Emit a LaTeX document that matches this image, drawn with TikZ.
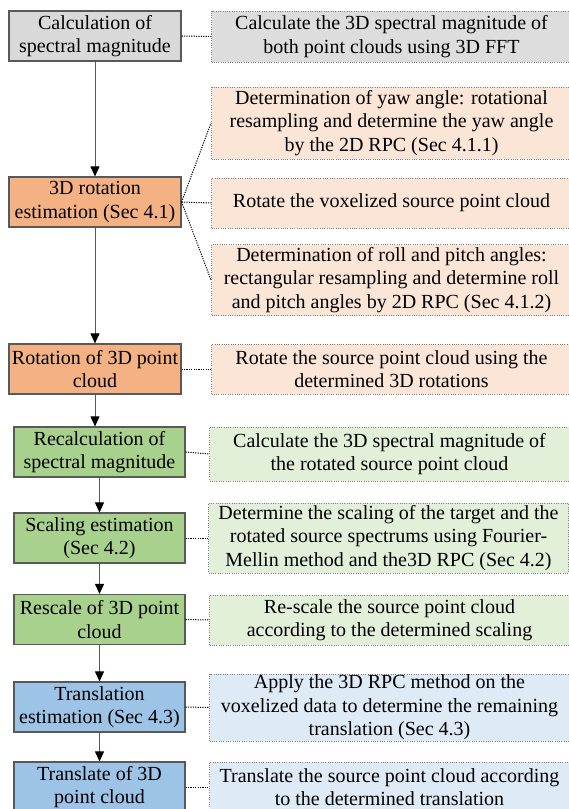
\documentclass[tikz,border=0pt]{standalone}
\usepackage{fontspec}
\setmainfont{Liberation Serif}
\usetikzlibrary{arrows.meta}

\definecolor{edgegray}{HTML}{595959}
\definecolor{dotgray}{HTML}{7F7F7F}
\definecolor{graybox}{HTML}{D9D9D9}
\definecolor{graylight}{HTML}{DDDDDD}
\definecolor{orangebox}{HTML}{F4B183}
\definecolor{orangelight}{HTML}{FBE5D6}
\definecolor{greenbox}{HTML}{A9D18E}
\definecolor{greenlight}{HTML}{E2F0D9}
\definecolor{bluebox}{HTML}{9DC3E6}
\definecolor{bluelight}{HTML}{DEEBF7}

\tikzset{
  stage/.style={draw=edgegray, line width=1.2pt, minimum width=172pt, minimum height=50pt,
    inner sep=0pt, align=center, font=\fontsize{20}{23.5}\selectfont},
  detail/.style={draw=dotgray, line width=1pt, dash pattern=on 1pt off 1.3pt, anchor=west,
    minimum width=360pt, inner sep=0pt, align=center, font=\fontsize{20}{23.5}\selectfont},
  link/.style={line width=1pt, dash pattern=on 1.2pt off 1.2pt},
  flow/.style={draw=edgegray, line width=1pt, -{Triangle[length=10pt,width=9pt,black]}}
}

\begin{document}
\begin{tikzpicture}[x=1pt,y=-1pt]
\useasboundingbox (0,0) rectangle (568,809);

\node[stage, fill=graybox] (calc) at (95,36) {Calculation of\\spectral magnitude};
\node[stage, fill=orangebox] (rotest) at (95,202) {3D rotation\\estimation (Sec 4.1)};
\node[stage, fill=orangebox] (rotpc) at (95,369) {Rotation of 3D point\\cloud};
\node[stage, fill=greenbox, minimum width=171pt] (recalc) at (99.5,452) {Recalculation of\\spectral magnitude};
\node[stage, fill=greenbox, minimum width=171pt] (scale) at (99.5,538) {Scaling estimation\\(Sec 4.2)};
\node[stage, fill=greenbox, minimum width=171pt] (rescale) at (99.5,619.5) {Rescale of 3D point\\cloud};
\node[stage, fill=bluebox, minimum width=171pt] (transest) at (99.5,707) {Translation\\estimation (Sec 4.3)};
\node[stage, fill=bluebox, minimum width=171pt] (transpc) at (99.5,787) {Translate of 3D\\point cloud};

\node[detail, fill=graylight, minimum height=51pt] (calcd) at (211,36.5) {Calculate the 3D spectral magnitude of\\both point clouds using 3D FFT};
\node[detail, fill=orangelight, minimum height=72pt] (yawd) at (211,123) {Determination of yaw angle: rotational\\resampling and determine the yaw angle\\by the 2D RPC (Sec 4.1.1)};
\node[detail, fill=orangelight, minimum height=50pt] (rotestd) at (211,203) {Rotate the voxelized source point cloud};
\node[detail, fill=orangelight, minimum height=71pt] (rolld) at (211,280) {Determination of roll and pitch angles:\\rectangular resampling and determine roll\\and pitch angles by 2D RPC (Sec 4.1.2)};
\node[detail, fill=orangelight, minimum height=50pt] (rotpcd) at (211,369) {Rotate the source point cloud using the\\determined 3D rotations};
\node[detail, fill=greenlight, minimum height=54pt] (recalcd) at (209,454) {Calculate the 3D spectral magnitude of\\the rotated source point cloud};
\node[detail, fill=greenlight, minimum height=70pt] (scaled) at (208,538) {Determine the scaling of the target and the\\rotated source spectrums using Fourier-\\Mellin method and the3D RPC (Sec 4.2)};
\node[detail, fill=greenlight, minimum height=50pt] (rescaled) at (209,620) {Re-scale the source point cloud\\according to the determined scaling};
\node[detail, fill=bluelight, minimum height=67pt] (transestd) at (209,707.5) {Apply the 3D RPC method on the\\voxelized data to determine the remaining\\translation (Sec 4.3)};
\node[detail, fill=bluelight, minimum height=50pt] (transpcd) at (209,787) {Translate the source point cloud according\\to the determined translation};

\draw[flow] (calc) -- (rotest);
\draw[flow] (rotest) -- (rotpc);
\draw[flow] (rotpc.south) -- (rotpc.south |- recalc.north);
\draw[flow] (recalc) -- (scale);
\draw[flow] (scale) -- (rescale);
\draw[flow] (rescale) -- (transest);
\draw[flow] (transest) -- (transpc);

\draw[link] (calc.east) -- (calcd.west);
\draw[link] (rotest.east) -- (yawd.west);
\draw[link] (rotest.east) -- (rotestd.west);
\draw[link] (rotest.east) -- (rolld.west);
\draw[link] (rotpc.east) -- (rotpcd.west);
\draw[link] (recalc.east) -- (recalcd.west);
\draw[link] (scale.east) -- (scaled.west);
\draw[link] (rescale.east) -- (rescaled.west);
\draw[link] (transest.east) -- (transestd.west);
\draw[link] (transpc.east) -- (transpcd.west);
\end{tikzpicture}
\end{document}
